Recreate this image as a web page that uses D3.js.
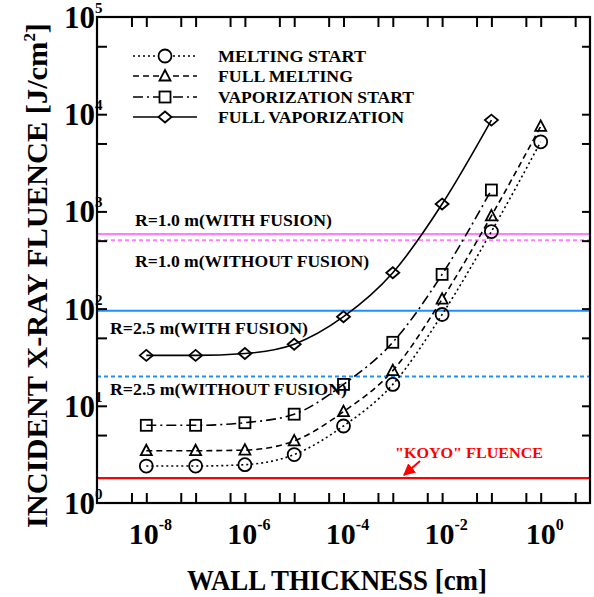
<!DOCTYPE html>
<html><head><meta charset="utf-8">
<script src="https://cdn.jsdelivr.net/npm/d3@7"></script>
<style>body{margin:0;background:#fff}svg{display:block}text{font-family:"Liberation Serif","Times New Roman",serif;font-weight:bold}</style>
</head><body><svg id="c" width="594" height="597"></svg>
<script>
// ---- data ----
const thickness = [1e-8, 1e-7, 1e-6, 1e-5, 1e-4, 1e-3, 1e-2, 1e-1, 1e0];
const meltingStart = [2.4, 2.4, 2.48, 3.15, 6.2, 16.6, 87, 620, 5200];
const fullMelting = [3.45, 3.45, 3.5, 4.35, 8.7, 23, 125, 900, 7500];
const vaporizationStart = [6.3, 6.3, 6.7, 8.2, 16.6, 45, 225, 1660];
const fullVaporization = [33, 33, 34.5, 43, 82.5, 234, 1190, 8700];
const seriesNames = ["MELTING START", "FULL MELTING", "VAPORIZATION START", "FULL VAPORIZATION"];
const refLabels = ["R=1.0 m(WITH FUSION)", "R=1.0 m(WITHOUT FUSION)", "R=2.5 m(WITH FUSION)", "R=2.5 m(WITHOUT FUSION)", "\"KOYO\" FLUENCE"];
const refValues = [585, 505, 95, 20, 1.8];
const xTickExps = [-8, -6, -4, -2, 0];
const yTickExps = [0, 1, 2, 3, 4, 5];

// ---- layout ----
const svg = d3.select("#c");
const L = 97, R = 590, T = 17, B = 503;
const x = d3.scaleLog().domain([1e-9, 1e1]).range([L, R]);
const y = d3.scaleLog().domain([1, 1e5]).range([B, T]);

// reference lines
const refStyles = [
  {c: "#ff80ff", d: null, w: 2.2},
  {c: "#ff80ff", d: "4,3", w: 2},
  {c: "#1e8fff", d: null, w: 2.2},
  {c: "#1e8fff", d: "4,3", w: 2},
  {c: "#ff0000", d: null, w: 2.2}
];
refValues.forEach((v, i) => {
  svg.append("line").attr("x1", L).attr("x2", R).attr("y1", y(v)).attr("y2", y(v))
    .attr("stroke", refStyles[i].c).attr("stroke-width", refStyles[i].w)
    .attr("stroke-dasharray", refStyles[i].d);
});
const refLabPos = [
  {x: 135, y: 226, len: 197},
  {x: 135, y: 267, len: 234},
  {x: 110, y: 334, len: 198},
  {x: 110, y: 395, len: 237}
];
refLabPos.forEach((p, i) => {
  svg.append("text").attr("x", p.x).attr("y", p.y).attr("font-size", 16)
    .attr("textLength", p.len).attr("lengthAdjust", "spacingAndGlyphs").text(refLabels[i]);
});
svg.append("text").attr("x", 395).attr("y", 458).attr("font-size", 15).attr("fill", "#ff0000")
  .attr("textLength", 148).attr("lengthAdjust", "spacingAndGlyphs").text(refLabels[4]);
// arrow
svg.append("defs").append("marker").attr("id", "ah").attr("viewBox", "0 0 10 10")
  .attr("refX", 9).attr("refY", 5).attr("markerWidth", 6).attr("markerHeight", 6)
  .attr("orient", "auto").append("path").attr("d", "M0,0L10,5L0,10z").attr("fill", "#ff0000");
svg.append("line").attr("x1", 420).attr("y1", 461).attr("x2", 404).attr("y2", 475)
  .attr("stroke", "#ff0000").attr("stroke-width", 2).attr("marker-end", "url(#ah)");

// series
const series = [
  {v: meltingStart, dash: "2,3", m: "circle"},
  {v: fullMelting, dash: "6,4", m: "triangle"},
  {v: vaporizationStart, dash: "10,4,2,4", m: "square"},
  {v: fullVaporization, dash: null, m: "diamond"}
];
function marker(g, type, cx, cy) {
  if (type === "circle") g.append("circle").attr("cx", cx).attr("cy", cy).attr("r", 6.5);
  else if (type === "triangle") g.append("path").attr("d", `M${cx},${cy-6}L${cx+5.5},${cy+4.5}L${cx-5.5},${cy+4.5}Z`);
  else if (type === "square") g.append("rect").attr("x", cx-5.5).attr("y", cy-5.5).attr("width", 11).attr("height", 11);
  else g.append("path").attr("d", `M${cx},${cy-5.5}L${cx+6.5},${cy}L${cx},${cy+5.5}L${cx-6.5},${cy}Z`);
}
const line = d3.line().x(d => x(d[0])).y(d => y(d[1])).curve(d3.curveMonotoneX);
series.forEach(s => {
  const pts = s.v.map((v, i) => [thickness[i], v]);
  svg.append("path").datum(pts).attr("d", line).attr("fill", "none").attr("stroke", "#000")
    .attr("stroke-width", 1.6).attr("stroke-dasharray", s.dash);
  const g = svg.append("g").attr("fill", "none").attr("stroke", "#000").attr("stroke-width", 1.8);
  pts.forEach(p => marker(g, s.m, x(p[0]), y(p[1])));
});

// legend
const legY = [56, 76, 97, 117];
const legLen = [148, 135, 196, 186];
series.forEach((s, i) => {
  svg.append("line").attr("x1", 133).attr("x2", 197).attr("y1", legY[i]).attr("y2", legY[i])
    .attr("stroke", "#000").attr("stroke-width", 1.6).attr("stroke-dasharray", s.dash);
  const g = svg.append("g").attr("fill", "#fff").attr("stroke", "#000").attr("stroke-width", 1.8);
  marker(g, s.m, 165, legY[i]);
  svg.append("text").attr("x", 218).attr("y", legY[i] + 6).attr("font-size", 17)
    .attr("textLength", legLen[i]).attr("lengthAdjust", "spacingAndGlyphs").text(seriesNames[i]);
});

// frame & ticks
svg.append("rect").attr("x", L).attr("y", T).attr("width", R - L).attr("height", B - T)
  .attr("fill", "none").attr("stroke", "#000").attr("stroke-width", 2.2);
const xTicks = [];
for (let e = -9; e <= 0; e++) { xTicks.push(Math.pow(10, e)); xTicks.push(5 * Math.pow(10, e)); }
const yTicks = [];
for (let e = 0; e <= 4; e++) { yTicks.push(5 * Math.pow(10, e)); yTicks.push(Math.pow(10, e + 1)); }
const axB = svg.append("g").attr("transform", `translate(0,${B})`)
  .call(d3.axisBottom(x).tickValues(xTicks.filter(t => t > 1e-9)).tickSize(-10).tickFormat(""));
const axT = svg.append("g").attr("transform", `translate(0,${T})`)
  .call(d3.axisTop(x).tickValues(xTicks.filter(t => t > 1e-9)).tickSize(-10).tickFormat(""));
const axL = svg.append("g").attr("transform", `translate(${L},0)`)
  .call(d3.axisLeft(y).tickValues(yTicks.filter(t => t < 1e5)).tickSize(-10).tickFormat(""));
const axR = svg.append("g").attr("transform", `translate(${R},0)`)
  .call(d3.axisRight(y).tickValues(yTicks.filter(t => t < 1e5)).tickSize(-8).tickFormat(""));
[axB, axT, axL, axR].forEach(a => {
  a.select(".domain").remove();
  a.selectAll(".tick line").attr("stroke", "#000").attr("stroke-width", 2);
});

// tick labels
yTickExps.forEach(e => {
  const t = svg.append("text").attr("x", 64).attr("y", y(Math.pow(10, e)) + 11);
  t.append("tspan").attr("font-size", 31).text("10");
  t.append("tspan").attr("font-size", 15).attr("dy", -15).text(e);
});
xTickExps.forEach(e => {
  const t = svg.append("text").attr("x", x(Math.pow(10, e)) + 4).attr("y", 544).attr("text-anchor", "middle");
  t.append("tspan").attr("font-size", 30).text("10");
  t.append("tspan").attr("font-size", 16).attr("dy", -14).text(e === 0 ? "0" : "-" + Math.abs(e));
});

// axis titles
svg.append("text").attr("x", 187).attr("y", 590).attr("font-size", 29)
  .attr("textLength", 300).attr("lengthAdjust", "spacingAndGlyphs").text("WALL THICKNESS [cm]");
const yt = svg.append("text").attr("transform", "translate(47,528) rotate(-90)").attr("font-size", 29)
  .attr("textLength", 505).attr("lengthAdjust", "spacingAndGlyphs");
yt.append("tspan").text("INCIDENT X-RAY FLUENCE [J/cm");
yt.append("tspan").attr("font-size", 16).attr("dy", -12).text("2");
yt.append("tspan").attr("dy", 12).text("]");
</script></body></html>
